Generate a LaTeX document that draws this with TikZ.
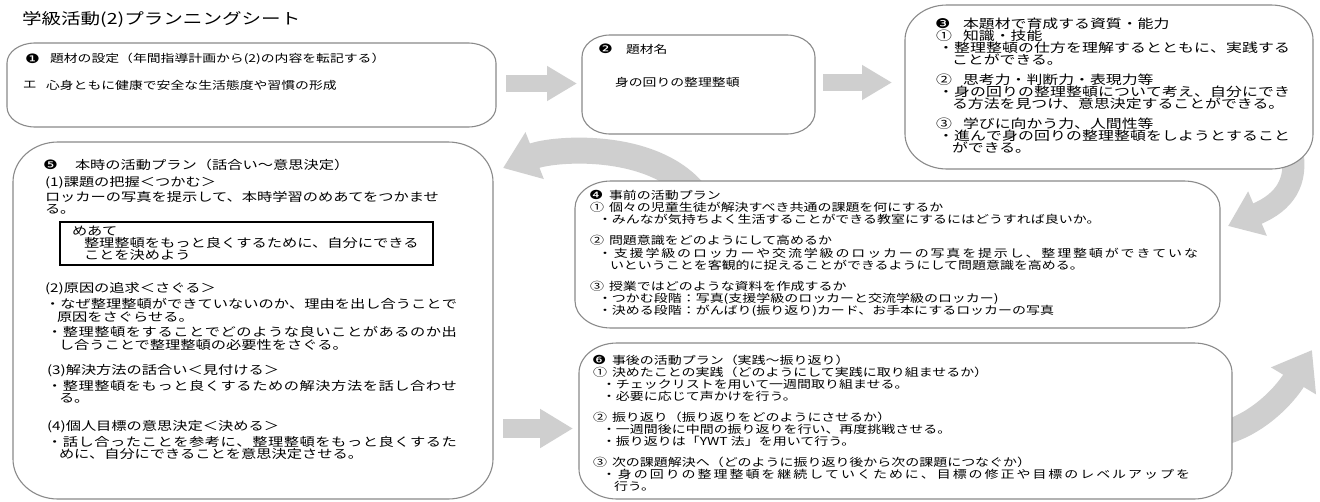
\documentclass[tikz,border=0pt]{standalone}
\usepackage{fontspec}
\setmainfont{Noto Sans CJK JP}[FakeStretch=1.27]
\newfontfamily\dingfont{DejaVu Sans}[FakeStretch=1.27]
\usetikzlibrary{arrows.meta,calc,fit}

\definecolor{framegray}{HTML}{8A8A8A}
\definecolor{arrowgray}{HTML}{CFCFCF}

% font sizes of the sheet
\newcommand\fTitle{\fontsize{15.4}{18}\selectfont}
\newcommand\fA{\fontsize{10.9}{13}\selectfont}
\newcommand\fC{\fontsize{12.5}{14}\selectfont}
\newcommand\fE{\fontsize{12}{14}\selectfont}
\newcommand\fS{\fontsize{11}{13}\selectfont}

% a wrapped line of a justified paragraph: characters spread to the given width
\ExplSyntaxOn
\NewDocumentCommand\spreadline{mm}
  {
    \hbox_to_wd:nn {#1}
      {
        \bool_set_false:N \l_tmpa_bool
        \tl_map_inline:nn {#2}
          { \bool_if:NT \l_tmpa_bool { \hfil } \bool_set_true:N \l_tmpa_bool ##1 }
      }
  }
\ExplSyntaxOff

\tikzset{
  panel/.style={draw=none,fill=none,inner sep=0pt,outer sep=0pt},
  frame/.style={draw=framegray,fill=white,line width=1.1pt},
  goalbox/.style={draw=black,line width=1.3pt,inner sep=0pt},
  txt/.style={anchor=west,inner sep=0pt,outer sep=0pt,text=black},
  ttl/.style={txt,font=\fTitle},
  tA/.style={txt,font=\fA},
  dA/.style={txt,font=\dingfont\fontsize{13}{14}\selectfont},
  tC/.style={txt,font=\fC},
  dC/.style={txt,font=\dingfont\fontsize{13.5}{14}\selectfont},
  tE/.style={txt,font=\fE},
  dE/.style={txt,font=\dingfont\fontsize{13}{14}\selectfont},
  tS/.style={txt,font=\fS},
  dS/.style={txt,font=\dingfont\fontsize{12.5}{14}\selectfont},
  flatarrow/.style={draw=arrowgray,line width=17pt,
    -{Triangle[width=33pt,length=30pt,fill=arrowgray]}},
  flatarrowB/.style={draw=arrowgray,line width=19pt,
    -{Triangle[width=37pt,length=33pt,fill=arrowgray]}},
  bendarrow/.style={draw=arrowgray,line width=#1,line cap=butt},
}

% one line of text, named line-<n>
\newcounter{tline}
\newcommand\txtline[4][]{%
  \stepcounter{tline}\edef\tlname{line-\arabic{tline}}%
  \node[#1] (\tlname) at (#2,#3) {#4};}

% rounded frame with elliptical corners around a panel node
\newcommand\drawframe[3]{%
  \filldraw[frame] ([yshift=-#3]#1.north west)
    arc[start angle=180,end angle=90,x radius=#2,y radius=#3]
    -- ([xshift=-#2]#1.north east)
    arc[start angle=90,end angle=0,x radius=#2,y radius=#3]
    -- ([yshift=#3]#1.south east)
    arc[start angle=0,end angle=-90,x radius=#2,y radius=#3]
    -- ([xshift=#2]#1.south west)
    arc[start angle=-90,end angle=-180,x radius=#2,y radius=#3]
    -- cycle;}

\begin{document}
\begin{tikzpicture}[x=1pt,y=-1pt]
\useasboundingbox[fill=white] (0,0) rectangle (1320,501);

% panels
\node[panel,fit={(7,43) (496,127)}] (b1) {};
\node[panel,fit={(582,35) (815,134)}] (b2) {};
\node[panel,fit={(905,5) (1313,169)}] (b3) {};
\node[panel,fit={(575,181) (1220,328)}] (b4) {};
\node[panel,fit={(13,142) (493,499)}] (b5) {};
\node[panel,fit={(579,343) (1232,499)}] (b6) {};

% gray arrows between the panels
\draw[flatarrow] ($(b1.east)+(10,-1.5)$) -- ($(b2.west)+(-5,-1)$);
\draw[flatarrow] ($(b2.east)+(8,-2)$) -- ($(b3.west)+(-13,-4.5)$);
\draw[flatarrowB] ($(b5.east)+(10,108)$) -- ($(b6.west)+(-6,7.5)$);

\draw[bendarrow=26pt,-{Triangle[width=48pt,length=34pt,fill=arrowgray]}]
  ($(b4.north west)+(125,19)$) .. controls ($(b4.north west)+(85,-41)$)
  and ($(b5.north east)+(61,6)$) .. ($(b5.north east)+(10,26)$);
\draw[bendarrow=22pt,-{Triangle[width=46pt,length=32pt,fill=arrowgray]}]
  ($(b3.south east)+(-21,-19)$) .. controls ($(b3.south east)+(-15,13)$)
  and ($(b4.north east)+(65,21)$) .. ($(b4.north east)+(8,45)$);
\draw[bendarrow=24pt,-{Triangle[width=50pt,length=36pt,fill=arrowgray]}]
  ($(b6.east)+(-17,14)$) .. controls ($(b6.east)+(23,7)$)
  and ($(b6.east)+(53,-26)$) .. ($(b6.east)+(80,-71)$);

% frames
\drawframe{b1}{28pt}{20pt}
\drawframe{b2}{28pt}{22pt}
\drawframe{b3}{42pt}{35pt}
\drawframe{b4}{36pt}{27pt}
\drawframe{b5}{45pt}{40pt}
\drawframe{b6}{38pt}{30pt}

% title
\txtline[ttl]{22}{20}{学級活動(2)プランニングシート}

% 1
\txtline[dA]{25}{59}{❶}
\txtline[tA]{50}{59}{題材の設定（年間指導計画から(2)の内容を転記する）}
\txtline[tA]{23}{85}{エ}
\txtline[tA]{46}{85}{心身ともに健康で安全な生活態度や習慣の形成}

% 2
\txtline[dA]{598}{49}{❷}
\txtline[tA]{626}{49}{題材名}
\txtline[tA]{615}{82}{身の回りの整理整頓}

% 3
\txtline[dC]{935}{24}{❸}
\txtline[tC]{963}{24}{本題材で育成する資質・能力}
\txtline[tC]{936}{36}{①}
\txtline[tC]{963}{36}{知識・技能}
\txtline[tC]{938}{48}{\spreadline{352pt}{・整理整頓の仕方を理解するとともに、実践する}}
\txtline[tC]{952}{60}{ことができる。}
\txtline[tC]{936}{80}{②}
\txtline[tC]{963}{80}{思考力・判断力・表現力等}
\txtline[tC]{938}{92}{\spreadline{352pt}{・身の回りの整理整頓について考え、自分にでき}}
\txtline[tC]{952}{104}{る方法を見つけ、意思決定することができる。}
\txtline[tC]{936}{124}{③}
\txtline[tC]{963}{124}{学びに向かう力、人間性等}
\txtline[tC]{938}{136}{\spreadline{352pt}{・進んで身の回りの整理整頓をしようとすること}}
\txtline[tC]{952}{148}{ができる。}

% 4
\txtline[dS]{589}{195}{❹}
\txtline[tS]{609}{195}{事前の活動プラン}
\txtline[tS]{590}{207.3}{①}
\txtline[tS]{609}{207.3}{個々の児童生徒が解決すべき共通の課題を何にするか}
\txtline[tS]{598}{219.6}{・みんなが気持ちよく生活することができる教室にするにはどうすれば良いか。}
\txtline[tS]{590}{240.7}{②}
\txtline[tS]{609}{240.7}{問題意識をどのようにして高めるか}
\txtline[tS]{598}{253}{\spreadline{600pt}{・支援学級のロッカーや交流学級のロッカーの写真を提示し、整理整頓ができていな}}
\txtline[tS]{610}{265.3}{いということを客観的に捉えることができるようにして問題意識を高める。}
\txtline[tS]{590}{286.4}{③}
\txtline[tS]{609}{286.4}{授業ではどのような資料を作成するか}
\txtline[tS]{598}{298.7}{・つかむ段階：写真(支援学級のロッカーと交流学級のロッカー)}
\txtline[tS]{598}{311}{・決める段階：がんばり(振り返り)カード、お手本にするロッカーの写真}

% 5
\txtline[dE]{43}{165}{❺}
\txtline[tE]{75}{165}{本時の活動プラン（話合い〜意思決定）}
\txtline[tE]{45}{183}{(1)課題の把握＜つかむ＞}
\txtline[tE]{45}{197}{ロッカーの写真を提示して、本時学習のめあてをつかませ}
\txtline[tE]{45}{209}{る。}
\node[goalbox,fit={(60,222) (433,265)}] (goal) {};
\txtline[tE]{72}{231}{めあて}
\txtline[tE]{84}{243}{整理整頓をもっと良くするために、自分にできる}
\txtline[tE]{84}{255}{ことを決めよう}
\txtline[tE]{45}{289}{(2)原因の追求＜さぐる＞}
\txtline[tE]{45}{304}{\spreadline{412pt}{・なぜ整理整頓ができていないのか、理由を出し合うことで}}
\txtline[tE]{57}{317}{原因をさぐらせる。}
\txtline[tE]{47}{332}{\spreadline{410pt}{・整理整頓をすることでどのような良いことがあるのか出}}
\txtline[tE]{59}{345}{し合うことで整理整頓の必要性をさぐる。}
\txtline[tE]{47}{371}{(3)解決方法の話合い＜見付ける＞}
\txtline[tE]{47}{386}{\spreadline{410pt}{・整理整頓をもっと良くするための解決方法を話し合わせ}}
\txtline[tE]{59}{398}{る。}
\txtline[tE]{47}{427}{(4)個人目標の意思決定＜決める＞}
\txtline[tE]{47}{442}{\spreadline{410pt}{・話し合ったことを参考に、整理整頓をもっと良くするた}}
\txtline[tE]{59}{454}{めに、自分にできることを意思決定させる。}

% 6
\txtline[dS]{592}{360}{❻}
\txtline[tS]{612}{360}{事後の活動プラン（実践〜振り返り）}
\txtline[tS]{593}{372}{①}
\txtline[tS]{612}{372}{決めたことの実践（どのようにして実践に取り組ませるか）}
\txtline[tS]{602}{384}{・チェックリストを用いて一週間取り組ませる。}
\txtline[tS]{602}{396}{・必要に応じて声かけを行う。}
\txtline[tS]{593}{417}{②}
\txtline[tS]{612}{417}{振り返り（振り返りをどのようにさせるか）}
\txtline[tS]{602}{429}{・一週間後に中間の振り返りを行い、再度挑戦させる。}
\txtline[tS]{602}{441}{・振り返りは「YWT 法」を用いて行う。}
\txtline[tS]{593}{462}{③}
\txtline[tS]{612}{462}{次の課題解決へ（どのように振り返り後から次の課題につなぐか）}
\txtline[tS]{602}{474}{\spreadline{588pt}{・身の回りの整理整頓を継続していくために、目標の修正や目標のレベルアップを}}
\txtline[tS]{614}{486}{行う。}
\end{tikzpicture}
\end{document}
